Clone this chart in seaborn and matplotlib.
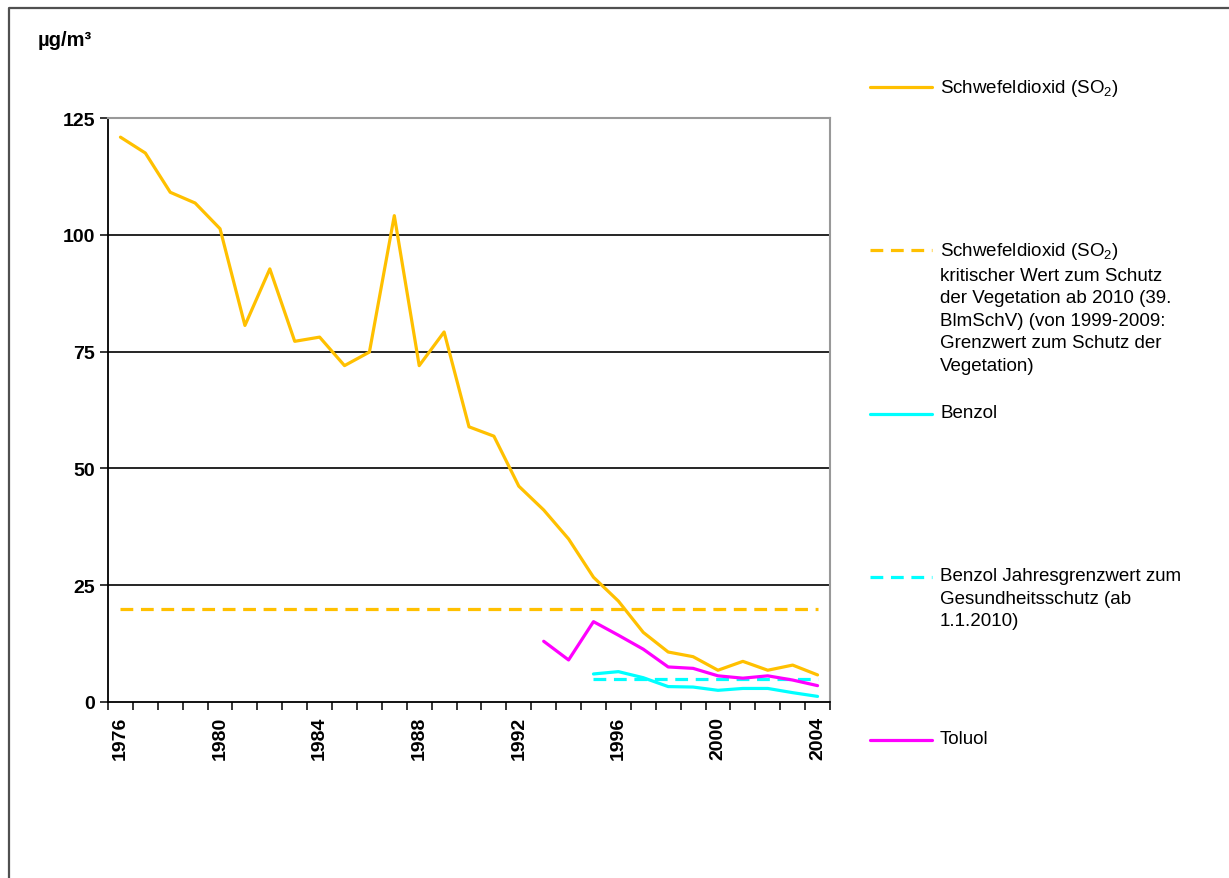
import numpy as np
import pandas as pd
import matplotlib
matplotlib.use("Agg")
import matplotlib.pyplot as plt
from matplotlib.lines import Line2D
import seaborn as sns

years = list(range(1976, 2005))
so2 = [120.9, 117.5, 109.1, 106.8, 101.3, 80.6, 92.7, 77.2, 78.1, 72.0,
       74.9, 104.1, 72.0, 79.2, 58.9, 56.9, 46.2, 41.1, 34.9, 26.7,
       21.6, 14.9, 10.7, 9.7, 6.8, 8.7, 6.8, 7.9, 5.8]
so2_limit = [20] * 29
benzol_years = list(range(1995, 2005))
benzol = [6.0, 6.5, 5.2, 3.3, 3.2, 2.5, 2.9, 2.9, 2.0, 1.2]
benzol_limit = [5] * 10
toluol_years = list(range(1993, 2005))
toluol = [13.0, 9.0, 17.2, 14.3, 11.3, 7.5, 7.2, 5.6, 5.1, 5.6, 4.7, 3.5]

label_years = [1976, 1980, 1984, 1988, 1992, 1996, 2000, 2004]
y_ticks = [0, 25, 50, 75, 100, 125]
unit = "µg/m³"
legend_labels = [
    "Schwefeldioxid (SO$_2$)",
    "Schwefeldioxid (SO$_2$)\nkritischer Wert zum Schutz\nder Vegetation ab 2010 (39.\nBlmSchV) (von 1999-2009:\nGrenzwert zum Schutz der\nVegetation)",
    "Benzol",
    "Benzol Jahresgrenzwert zum\nGesundheitsschutz (ab\n1.1.2010)",
    "Toluol",
]

GOLD = "#FFC000"
CYAN = "#00FFFF"
MAG = "#FF00FF"

sns.set_style("white")
plt.rcParams["font.family"] = ["Liberation Sans", "DejaVu Sans"]
plt.rcParams["mathtext.fontset"] = "custom"
plt.rcParams["mathtext.rm"] = "Liberation Sans"
plt.rcParams["text.color"] = "black"
plt.rcParams["xtick.color"] = "black"
plt.rcParams["ytick.color"] = "black"

W, H = 1229, 879
fig = plt.figure(figsize=(W / 100, H / 100), dpi=100)
ax = fig.add_axes([108 / W, 1 - 703 / H, 722 / W, 584 / H])

lw = 2.3
sns.lineplot(x=years, y=so2, color=GOLD, lw=lw, ax=ax)
l2 = sns.lineplot(x=years, y=so2_limit, color=GOLD, lw=lw, ax=ax).lines[-1]
l2.set_dashes((4, 2.4))
sns.lineplot(x=benzol_years, y=benzol, color=CYAN, lw=lw, ax=ax)
l4 = sns.lineplot(x=benzol_years, y=benzol_limit, color=CYAN, lw=lw, ax=ax).lines[-1]
l4.set_dashes((4, 2.4))
sns.lineplot(x=toluol_years, y=toluol, color=MAG, lw=lw, ax=ax)

ax.set_xlim(1975.5, 2004.5)
ax.set_ylim(0, 125)
for v in y_ticks[1:-1]:
    ax.axhline(v, color="black", lw=1.2, zorder=0)

ax.set_xticks(np.arange(1975.5, 2005.0, 1.0))
ax.set_xticklabels([])
ax.tick_params(axis="x", which="major", direction="out", length=6, width=1.1, color="black", bottom=True)
ax.set_xticks(label_years, minor=True)
ax.set_xticklabels([str(y) for y in label_years], minor=True, rotation=90,
                   fontsize=14, fontweight="bold")
ax.tick_params(axis="x", which="minor", length=0, pad=10)

ax.set_yticks(y_ticks)
ax.set_yticklabels([str(v) for v in y_ticks], fontsize=14, fontweight="bold")
ax.tick_params(axis="y", direction="out", length=5.5, width=1.1, color="black", left=True, pad=4)

for s in ["left", "bottom"]:
    ax.spines[s].set_color("black")
    ax.spines[s].set_linewidth(1.3)
for s in ["top", "right"]:
    ax.spines[s].set_color("#999999")
    ax.spines[s].set_linewidth(1.5)
ax.set_xlabel("")
ax.set_ylabel("")

fig.text(38 / W, 1 - 41 / H, unit, fontsize=14.5, fontweight="bold", ha="left", va="center")

# legend (drawn manually to match layout)
styles = [(GOLD, "-"), (GOLD, "--"), (CYAN, "-"), (CYAN, "--"), (MAG, "-")]
ys = [88, 251, 415, 578, 741]
for (c, ls), yy, lab in zip(styles, ys, legend_labels):
    ln = Line2D([870 / W, 932 / W], [1 - yy / H, 1 - yy / H], color=c, lw=lw,
                transform=fig.transFigure)
    if ls == "--":
        ln.set_dashes((4, 2.4))
    fig.add_artist(ln)
    fig.text(940 / W, 1 - (yy - 10) / H, lab, fontsize=13.5, ha="left", va="top",
             linespacing=1.43)

# outer frame (left and top edges visible)
fig.add_artist(Line2D([9 / W, 9 / W, 1.0], [0.0, 1 - 9 / H, 1 - 9 / H],
                      color="#505050", lw=1.6, transform=fig.transFigure))

fig.savefig("out.png", dpi=100)
